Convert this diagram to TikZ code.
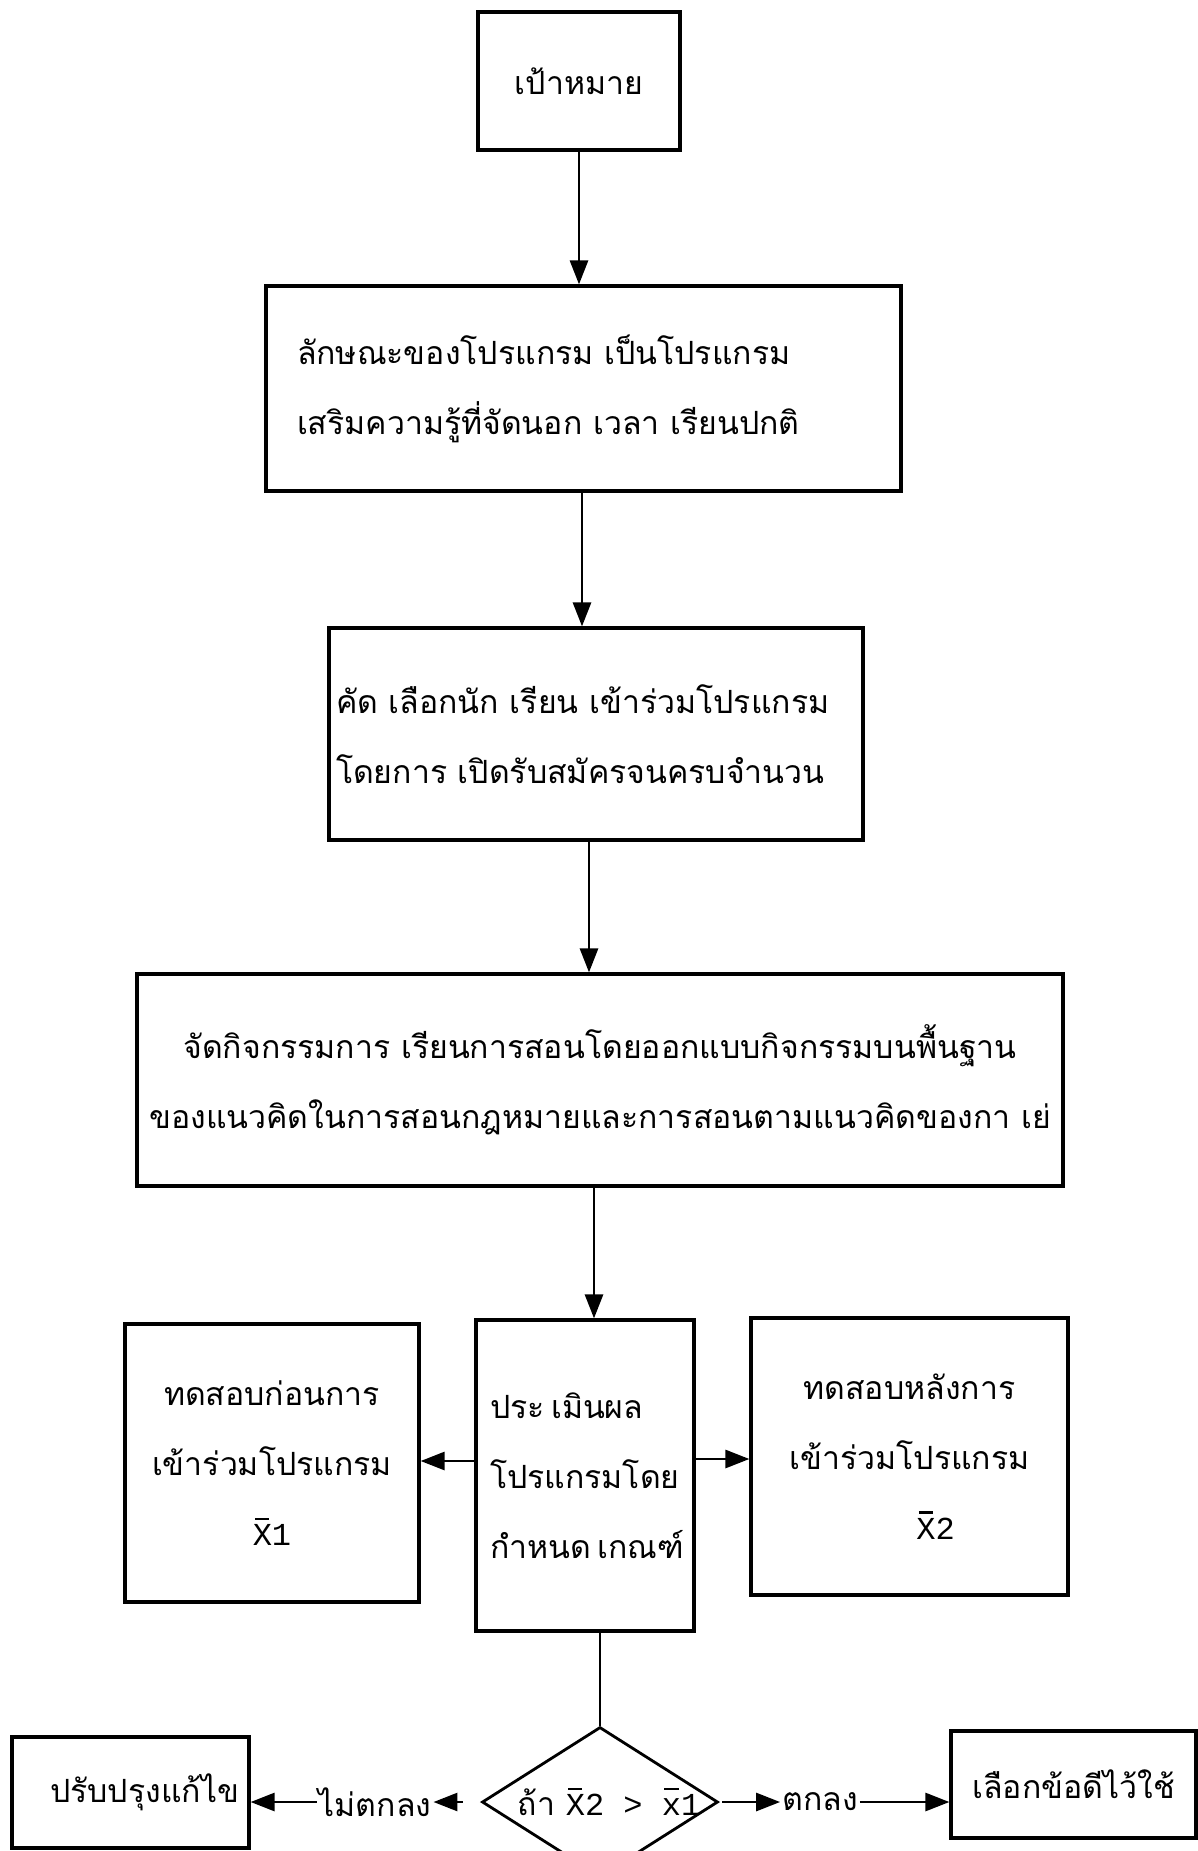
\documentclass[tikz,border=0pt]{standalone}
\usepackage{fontspec}
\newfontfamily\thai[Script=Thai]{Loma}
\newfontfamily\monof{Liberation Mono}
\usetikzlibrary{arrows.meta,shapes.geometric}
\newcommand\xb[1]{{\monof\makebox[0pt][l]{\hspace{.08em}\raisebox{.8em}{\rule{.44em}{.07em}}}#1}}
\begin{document}
\begin{tikzpicture}[x=1pt,y=-1pt,
  box/.style={draw, line width=3.2pt, inner sep=0pt},
  ln/.style={line width=2.8pt},
  arr/.style={ln, -{Triangle[length=24pt,width=18pt]}},
  lbl/.style={inner xsep=2pt, inner ysep=0pt},
  every node/.style={font=\thai\fontsize{32}{70}\selectfont}]
\useasboundingbox (0,0) rectangle (1198,1851);
\clip (0,0) rectangle (1198,1851);

\node[box, minimum width=202pt, minimum height=138pt] (b1) at (579,81) {เป้าหมาย};
\node[box, minimum width=635pt, minimum height=205pt, text width=573pt, align=left] (b2) at (583.5,388.5)
  {\mbox{ลักษณะของโปรแกรม เป็นโปรแกรม}\\\mbox{เสริมความรู้ที่จัดนอก เวลา เรียนปกติ}};
\node[box, minimum width=534pt, minimum height=212pt, text width=520pt, align=left] (b3) at (596,734)
  {\mbox{คัด เลือกนัก เรียน เข้าร่วมโปรแกรม}\\\mbox{โดยการ เปิดรับสมัครจนครบจำนวน}};
\node[box, minimum width=926pt, minimum height=212pt, align=center] (b4) at (600,1080)
  {จัดกิจกรรมการ เรียนการสอนโดยออกแบบกิจกรรมบนพื้นฐาน\\ของแนวคิดในการสอนกฎหมายและการสอนตามแนวคิดของกา เย่};
\node[box, minimum width=294pt, minimum height=278pt, align=center] (bl) at (272,1463)
  {ทดสอบก่อนการ\\เข้าร่วมโปรแกรม\\\xb{X}{\monof 1}};
\node[box, minimum width=218pt, minimum height=311pt, text width=190pt, align=left] (bc) at (585,1475.5)
  {\mbox{ประ\hspace{.2em}เมินผล}\\\mbox{โปรแกรมโดย}\\\mbox{กำหนด\hspace{.2em}เกณฑ์}};
\node[box, minimum width=317pt, minimum height=277pt, align=center] (br) at (909.5,1456.5)
  {ทดสอบหลังการ\\เข้าร่วมโปรแกรม\\\hspace*{52pt}\xb{X}{\monof 2}};

\node[draw, diamond, line width=2.8pt, inner sep=0pt, minimum width=236pt, minimum height=150pt] (dia) at (600,1802) {};
\node[lbl] (dtx) at (609,1802) {ถ้า \xb{X}{\monof 2 > }\xb{x}{\monof 1}};
\node[lbl] (nok) at (375,1802) {ไม่ตกลง};
\node[lbl] (ok) at (820,1802) {ตกลง};
\node[box, minimum width=237pt, minimum height=111pt, text width=217pt, align=right] (fix) at (130.5,1792.5) {ปรับปรุงแก้ไข};
\node[box, minimum width=245pt, minimum height=107pt, align=center] (sel) at (1073.5,1784.5) {เลือกข้อดีไว้ใช้};

\draw[arr] (b1.south) -- (b1.south |- b2.north);
\draw[arr] ([xshift=-1.5pt]b2.south) -- ([xshift=-1.5pt]b2.south |- b3.north);
\draw[arr] ([xshift=-7pt]b3.south) -- ([xshift=-7pt]b3.south |- b4.north);
\draw[arr] ([xshift=-6pt]b4.south) -- ([xshift=-6pt]b4.south |- bc.north);
\draw[arr] ([yshift=14.5pt]bc.west) -- ([yshift=14.5pt]bc.west -| bl.east);
\draw[arr] ([yshift=16.5pt]bc.east) -- ([yshift=16.5pt]bc.east -| br.west);
\draw[ln] (dia.north |- bc.south) -- (dia.north);
\draw[arr] (dia.west) ++(-18,0) -- (nok.east);
\draw[arr] (nok.west) -- (nok.west -| fix.east);
\draw[arr] (dia.east) ++(3,0) -- (ok.west);
\draw[arr] (ok.east) -- (ok.east -| sel.west);
\end{tikzpicture}
\end{document}
